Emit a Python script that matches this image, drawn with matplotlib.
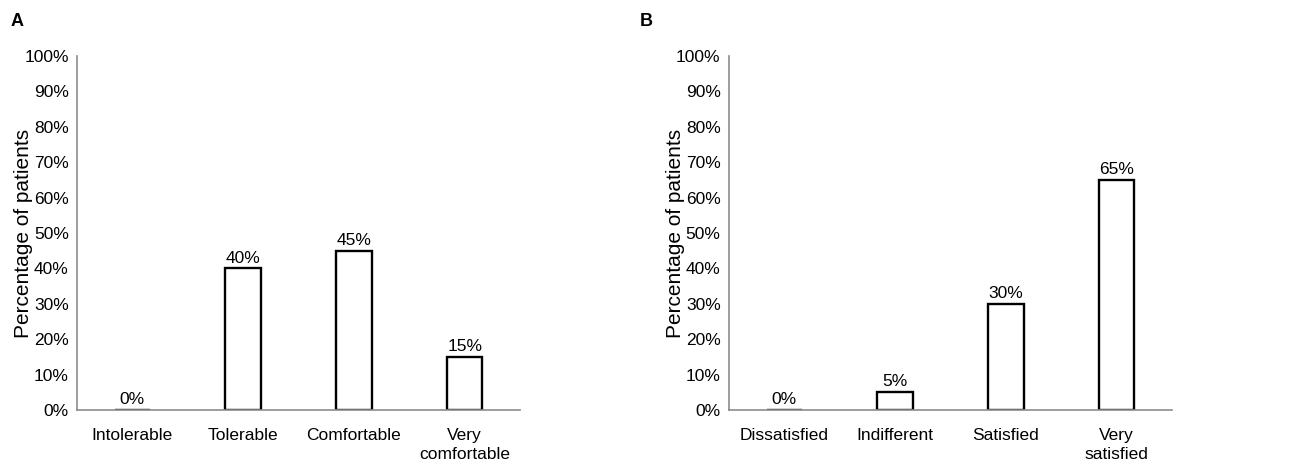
import numpy as np
import matplotlib.pyplot as plt

plt.rcParams['font.family'] = ['Liberation Sans', 'DejaVu Sans']

# tolerability (panel A) and satisfaction (panel B)
tol_labels = ['Intolerable', 'Tolerable', 'Comfortable', 'Very\ncomfortable']
tol_values = [0, 40, 45, 15]
sat_labels = ['Dissatisfied', 'Indifferent', 'Satisfied', 'Very\nsatisfied']
sat_values = [0, 5, 30, 65]
y_ticks = list(range(0, 101, 10))

fig = plt.figure(figsize=(13.01, 4.74), dpi=100)
ax_a = fig.add_axes([0.0592, 0.135, 0.3405, 0.747])
ax_b = fig.add_axes([0.5603, 0.135, 0.3405, 0.747])


def draw_panel(ax, labels, values):
    x = np.arange(len(labels))
    ax.bar(x, values, width=0.32, color='white', edgecolor='black', linewidth=1.7)
    for xi, v in zip(x, values):
        ax.text(xi, v + 0.8, f'{v}%', ha='center', va='bottom', fontsize=12.5)
    ax.set_xlim(-0.5, len(labels) - 0.5)
    ax.set_ylim(0, 100)
    ax.set_yticks(y_ticks)
    ax.set_yticklabels([f'{t}%' for t in y_ticks])
    ax.set_xticks(x)
    ax.set_xticklabels(labels, linespacing=1.35)
    ax.tick_params(axis='both', length=0, labelsize=12.5)
    ax.tick_params(axis='x', pad=13)
    ax.tick_params(axis='y', pad=6)
    for side in ['top', 'right']:
        ax.spines[side].set_visible(False)
    for side in ['left', 'bottom']:
        ax.spines[side].set_color('#8c8c8c')
        ax.spines[side].set_linewidth(1.2)
    ax.set_ylabel('Percentage of patients', fontsize=15)
    ax.yaxis.set_label_coords(-0.099, 0.5)


draw_panel(ax_a, tol_labels, tol_values)
draw_panel(ax_b, sat_labels, sat_values)

fig.text(0.008, 0.955, 'A', fontsize=13, fontweight='bold', va='center')
fig.text(0.492, 0.955, 'B', fontsize=13, fontweight='bold', va='center')

fig.savefig('out.png', dpi=100)
